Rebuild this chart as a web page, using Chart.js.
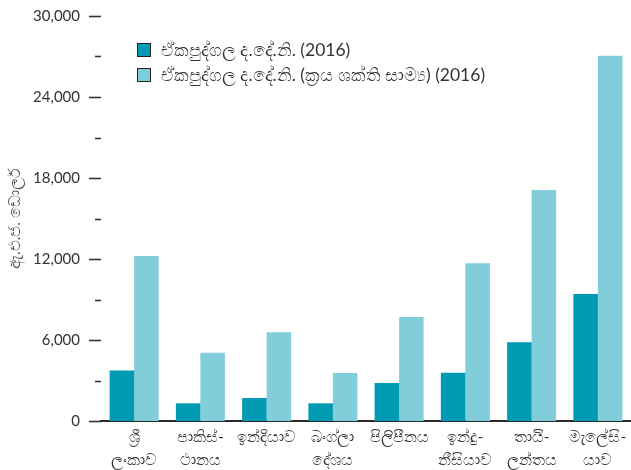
<!DOCTYPE html>
<html>
<head>
<meta charset="utf-8">
<script src="https://cdn.jsdelivr.net/npm/chart.js@4/dist/chart.umd.min.js"></script>
<style>
  body { margin: 0; background: #fff; }
  #wrap { position: relative; width: 631px; height: 470px; }
  #legend { position: absolute; left: 137px; top: 37px; font-family: Lato, 'Noto Sans', sans-serif; font-size: 17.5px; color: #333; }
  #legend div { height: 25px; display: flex; align-items: center; }
  #legend span.box { width: 12px; height: 12px; border: 1.5px solid #222; margin-right: 10px; display: inline-block; }
</style>
</head>
<body>
<div id="wrap">
  <canvas id="chart" width="631" height="470"></canvas>
  <div id="legend"></div>
</div>
<script>
// රටවල් (ලේබල් පේළි දෙකට කඩා ඇත)
var categories = [
  ['ශ්‍රී', 'ලංකාව'],
  ['පාකිස්-', 'ථානය'],
  ['ඉන්දියාව'],
  ['බංග්ලා', 'දේශය'],
  ['පිලිපීනය'],
  ['ඉන්දු-', 'නීසියාව'],
  ['තායි-', 'ලන්තය'],
  ['මැලේසි-', 'යාව']
];
var gdpNominal = [3750, 1310, 1700, 1310, 2810, 3580, 5830, 9410];
var gdpPPP = [12220, 5060, 6570, 3550, 7700, 11680, 17110, 27060];
var seriesNames = ['ඒකපුද්ගල ද.දේ.නි. (2016)', 'ඒකපුද්ගල ද.දේ.නි. (ක්‍රය ශක්ති සාම්‍ය) (2016)'];
var yTitle = 'ඇ.එ.ජ. ඩොලර්';
var yMax = 30000;
var yStep = 3000;
var yLabelStep = 6000;

var colors = ['#009ab3', '#81cdd9'];
var font = "Lato, 'Noto Sans', sans-serif";

// y අක්ෂයේ කෙටි ඉරි (ප්‍රධාන දිගයි, අනෙක් ඒවා කෙටියි)
var tickMarks = {
    id: 'tickMarks',
    afterDraw: function(chart) {
        var s = chart.scales.y;
        var ctx = chart.ctx;
        ctx.save();
        ctx.strokeStyle = '#333';
        ctx.lineWidth = 1.6;
        s.ticks.forEach(function(t) {
            var y = Math.round(s.getPixelForValue(t.value)) + 0.5;
            var len = (t.value % yLabelStep === 0) ? 12 : 6;
            ctx.beginPath();
            ctx.moveTo(s.right - len, y);
            ctx.lineTo(s.right, y);
            ctx.stroke();
        });
        ctx.restore();
    }
};

var chart = new Chart(document.getElementById('chart'), {
    type: 'bar',
    data: {
        labels: categories,
        datasets: [{
            label: seriesNames[0],
            data: gdpNominal,
            backgroundColor: colors[0]
        }, {
            label: seriesNames[1],
            data: gdpPPP,
            backgroundColor: colors[1]
        }]
    },
    options: {
        responsive: false,
        animation: false,
        layout: { padding: { top: 16, right: 0, left: 0, bottom: 0 } },
        datasets: { bar: { categoryPercentage: 0.74, barPercentage: 1.0 } },
        plugins: { legend: { display: false }, tooltip: { enabled: false } },
        scales: {
            x: {
                grid: { display: false, drawTicks: false },
                border: { display: true, color: '#2a2a2a', width: 2 },
                ticks: {
                    padding: 5,
                    maxRotation: 0,
                    autoSkip: false,
                    color: '#333',
                    font: { family: font, size: 16, lineHeight: 1.4 }
                },
                afterFit: function(s) { s.height = 49; s.paddingLeft = 0; s.paddingRight = 0; }
            },
            y: {
                min: 0,
                max: yMax,
                grid: { display: false, drawTicks: false },
                border: { display: false },
                ticks: {
                    stepSize: yStep,
                    padding: 21,
                    color: '#333',
                    font: { family: font, size: 15 },
                    callback: function(v) { return v % yLabelStep === 0 ? v.toLocaleString('en-US') : ''; }
                },
                title: {
                    display: true,
                    text: yTitle,
                    color: '#555',
                    font: { family: font, size: 15.5 },
                    padding: { top: 6, bottom: 0 }
                },
                afterFit: function(s) { s.width = 101; s.paddingTop = 0; s.paddingBottom = 0; }
            }
        }
    },
    plugins: [tickMarks]
});

// ලෙජන්ඩය
var leg = document.getElementById('legend');
chart.data.datasets.forEach(function(ds) {
    var row = document.createElement('div');
    row.innerHTML = '<span class="box" style="background:' + ds.backgroundColor + '"></span>' + ds.label;
    leg.appendChild(row);
});
</script>
</body>
</html>
